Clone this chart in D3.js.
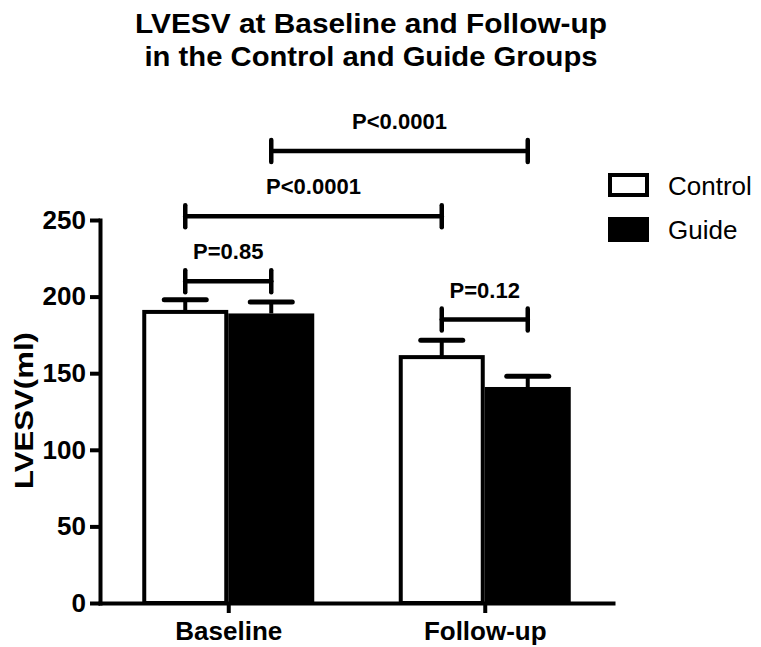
<!DOCTYPE html>
<html>
<head>
<meta charset="utf-8">
<script src="https://cdn.jsdelivr.net/npm/d3@7"></script>
<style>
  html, body { margin: 0; padding: 0; background: #fff; }
  svg { display: block; }
  text { font-family: "Liberation Sans", Arial, Helvetica, sans-serif; fill: #000; }
</style>
</head>
<body>
<svg id="chart" width="761" height="647"></svg>
<script>
// Time points and groups
const categories = ["Baseline", "Follow-up"];
const groups = ["Control", "Guide"];

// Mean LVESV (ml) and SEM per group at each time point
const controlMeans = [190, 160.5];
const guideMeans = [189, 141];
const controlSEM = [8, 11];
const guideSEM = [7.5, 7];

// Y axis ticks
const yTicks = [0, 50, 100, 150, 200, 250];

// Significance brackets: endpoints are [time point, group], level in ml
const comparisons = [
  { from: ["Baseline", "Control"], to: ["Baseline", "Guide"], level: 210, label: "P=0.85" },
  { from: ["Baseline", "Control"], to: ["Follow-up", "Control"], level: 252.5, label: "P<0.0001" },
  { from: ["Baseline", "Guide"], to: ["Follow-up", "Guide"], level: 295, label: "P<0.0001" },
  { from: ["Follow-up", "Control"], to: ["Follow-up", "Guide"], level: 185, label: "P=0.12" }
];

const titleLines = ["LVESV at Baseline and Follow-up", "in the Control and Guide Groups"];
const yLabel = "LVESV(ml)";

(function draw() {
  // Tidy table built from the arrays above
  const rows = [];
  categories.forEach((c, i) => {
    rows.push({ cat: c, group: "Control", mean: controlMeans[i], sem: controlSEM[i] });
    rows.push({ cat: c, group: "Guide", mean: guideMeans[i], sem: guideSEM[i] });
  });

  const svg = d3.select("#chart");
  const plotLeft = 100, plotRight = 613, plotTop = 220, plotBottom = 603;
  const stroke = 4;

  const x = d3.scalePoint().domain(categories).range([plotLeft, plotRight]).padding(0.5);
  const xSub = d3.scaleBand().domain(groups).range([-86, 86]).padding(0);
  const y = d3.scaleLinear().domain([0, 250]).range([plotBottom, plotTop]);

  const barCenter = (cat, group) => x(cat) + xSub(group) + xSub.bandwidth() / 2;

  // Title
  svg.append("g").selectAll("text")
    .data(titleLines)
    .join("text")
    .attr("x", 371)
    .attr("y", (d, i) => 33 + i * 33)
    .attr("text-anchor", "middle")
    .attr("font-size", 27)
    .attr("font-weight", "bold")
    .attr("textLength", (d, i) => i === 0 ? 472 : 453)
    .attr("lengthAdjust", "spacingAndGlyphs")
    .text(d => d);

  // Bars
  svg.append("g").selectAll("rect")
    .data(rows)
    .join("rect")
    .attr("x", d => x(d.cat) + xSub(d.group) + (d.group === "Control" ? stroke / 2 : 0))
    .attr("y", d => y(d.mean))
    .attr("width", d => xSub.bandwidth() - (d.group === "Control" ? stroke : 0))
    .attr("height", d => y(0) - y(d.mean))
    .attr("fill", d => d.group === "Control" ? "#fff" : "#000")
    .attr("stroke", "#000")
    .attr("stroke-width", d => d.group === "Control" ? stroke : 0);

  // Error bars (upper SEM)
  const err = svg.append("g").attr("stroke", "#000").attr("stroke-width", stroke);
  err.selectAll("line.stem")
    .data(rows)
    .join("line")
    .attr("class", "stem")
    .attr("x1", d => barCenter(d.cat, d.group))
    .attr("x2", d => barCenter(d.cat, d.group))
    .attr("y1", d => y(d.mean))
    .attr("y2", d => y(d.mean + d.sem));
  err.selectAll("line.cap")
    .data(rows)
    .join("line")
    .attr("class", "cap")
    .attr("stroke-width", 5)
    .attr("stroke-linecap", "round")
    .attr("x1", d => barCenter(d.cat, d.group) - 21)
    .attr("x2", d => barCenter(d.cat, d.group) + 21)
    .attr("y1", d => y(d.mean + d.sem))
    .attr("y2", d => y(d.mean + d.sem));

  // Axes
  const yAxis = svg.append("g")
    .attr("transform", `translate(${plotLeft},0)`)
    .call(d3.axisLeft(y).tickValues(yTicks).tickSize(10).tickSizeOuter(0).tickPadding(4));
  const xAxis = svg.append("g")
    .attr("transform", `translate(0,${plotBottom})`)
    .call(d3.axisBottom(x).tickSize(10).tickSizeOuter(0).tickPadding(9));

  [yAxis, xAxis].forEach(a => {
    a.select(".domain").attr("stroke", "#000").attr("stroke-width", stroke).attr("stroke-linecap", "square");
    a.selectAll(".tick line").attr("stroke", "#000").attr("stroke-width", stroke);
    a.selectAll(".tick text")
      .attr("font-family", "'Liberation Sans', Arial, sans-serif")
      .attr("font-weight", "bold")
      .attr("font-size", 26)
      .attr("fill", "#000");
  });

  // Y axis title
  svg.append("text")
    .attr("transform", "translate(33,410.5) rotate(-90)")
    .attr("text-anchor", "middle")
    .attr("font-size", 26)
    .attr("font-weight", "bold")
    .attr("textLength", 157)
    .attr("lengthAdjust", "spacingAndGlyphs")
    .text(yLabel);

  // Significance brackets
  const br = svg.append("g");
  comparisons.forEach(c => {
    const x1 = barCenter(c.from[0], c.from[1]);
    const x2 = barCenter(c.to[0], c.to[1]);
    const yy = y(c.level);
    const g = br.append("g").attr("stroke", "#000").attr("stroke-width", 4.5).attr("stroke-linecap", "round");
    g.append("line").attr("x1", x1).attr("x2", x2).attr("y1", yy).attr("y2", yy);
    g.append("line").attr("x1", x1).attr("x2", x1).attr("y1", yy - 11).attr("y2", yy + 11);
    g.append("line").attr("x1", x2).attr("x2", x2).attr("y1", yy - 11).attr("y2", yy + 11);
    br.append("text")
      .attr("x", (x1 + x2) / 2)
      .attr("y", yy - 22)
      .attr("text-anchor", "middle")
      .attr("font-size", 22)
      .attr("font-weight", "bold")
      .text(c.label);
  });

  // Legend
  const legend = svg.append("g");
  groups.forEach((gname, i) => {
    const ly = 173 + i * 44;
    if (gname === "Control") {
      legend.append("rect")
        .attr("x", 608 + stroke / 2).attr("y", ly + stroke / 2)
        .attr("width", 41 - stroke).attr("height", 24 - stroke)
        .attr("fill", "#fff").attr("stroke", "#000").attr("stroke-width", stroke);
    } else {
      legend.append("rect")
        .attr("x", 608).attr("y", ly)
        .attr("width", 41).attr("height", 25)
        .attr("fill", "#000");
    }
    legend.append("text")
      .attr("x", 668)
      .attr("y", ly + 22)
      .attr("font-size", 26)
      .text(gname);
  });
})();
</script>
</body>
</html>
